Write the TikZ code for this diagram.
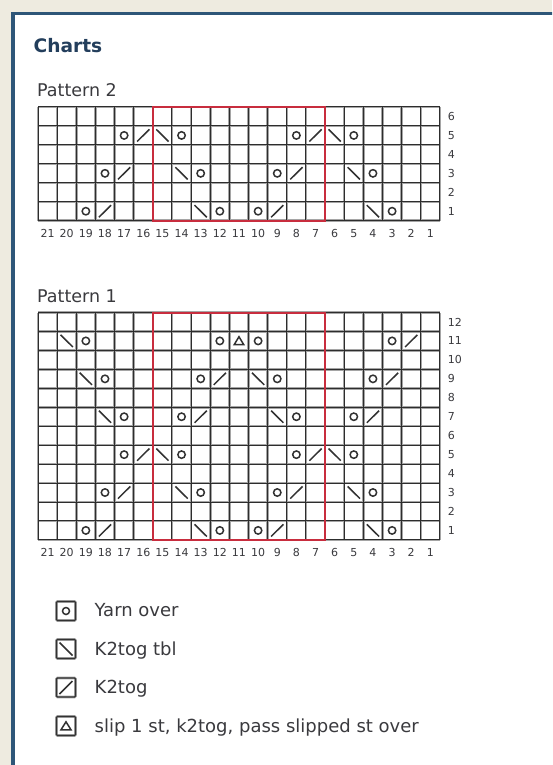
\documentclass[tikz,border=0pt]{standalone}
\usepackage{fontspec}
\setmainfont{DejaVu Sans}
\definecolor{beige}{RGB}{238,235,224}
\definecolor{frameblue}{RGB}{46,86,120}
\definecolor{titleblue}{RGB}{35,62,92}
\definecolor{txt}{RGB}{58,58,62}
\definecolor{chartred}{RGB}{200,45,62}
\definecolor{gridd}{RGB}{45,45,45}
\definecolor{gridl}{RGB}{165,165,165}
\definecolor{symc}{RGB}{50,50,50}
\begin{document}
\begin{tikzpicture}[x=1pt,y=-1pt,
  glback/.style={draw=gridl,line width=2.5pt},
  glfront/.style={draw=gridd,line width=1pt},
  redbox/.style={draw=chartred,line width=2pt},
  sym/.style={draw=symc,line width=1.5pt},
  num/.style={inner sep=0pt,text=txt,font=\fontsize{11}{12}\selectfont},
  label/.style={inner sep=0pt,anchor=base west,text=txt,font=\fontsize{17.5}{20}\selectfont},
  legtext/.style={inner sep=0pt,anchor=base west,text=txt,font=\fontsize{18}{21}\selectfont},
  legbox/.style={draw=symc,line width=1.3pt,rounded corners=1pt,minimum size=19pt,inner sep=0pt},
  halo/.style={draw=gridl,line width=2.8pt,rounded corners=1pt,minimum size=19pt,inner sep=0pt}
]
\useasboundingbox (0,0) rectangle (552,765);
\clip (0,0) rectangle (552,765);
\fill[beige] (0,0) rectangle (552,765);
\draw[frameblue,line width=3.5pt,fill=white] (13,13.5) rectangle (600,800);

\node[inner sep=0pt,anchor=base west,text=titleblue,font=\bfseries\fontsize{18.6}{21}\selectfont] (title) at (33.5,53) {Charts};
\node[label] (lab2) at (37,97) {Pattern 2};
\node[label] (lab1) at (37,302.5) {Pattern 1};

% ---------- Pattern 2 ----------
\begin{scope}[shift={(38,220.7)},x=19.14pt,y=18.95pt]
  \foreach \i in {0,...,21} \draw[glback] (\i,0) -- (\i,6);
  \foreach \j in {0,...,6} \draw[glback] (0,\j) -- (21,\j);
  \foreach \i in {0,...,21} \draw[glfront] (\i,0) -- (\i,6);
  \foreach \j in {0,...,6} \draw[glfront] (0,\j) -- (21,\j);
  \draw[redbox] (6,0) rectangle (15,6);
  \foreach \c/\r in {17/5,14/5,8/5,5/5,18/3,13/3,9/3,4/3,19/1,12/1,10/1,3/1}
    \draw[sym] ({21-\c+0.5},{\r-0.5}) circle[radius=3.7pt];
  \foreach \c/\r in {16/5,7/5,17/3,8/3,18/1,9/1}
    \draw[sym] ({21-\c+0.18},{\r-0.82}) -- ({21-\c+0.82},{\r-0.18});
  \foreach \c/\r in {15/5,6/5,14/3,5/3,13/1,4/1}
    \draw[sym] ({21-\c+0.18},{\r-0.18}) -- ({21-\c+0.82},{\r-0.82});
  \foreach \c in {1,...,21} \node[num] (p2c\c) at ({21-\c+0.5},-0.66) {\c};
  \foreach \r in {1,...,6} \node[num,anchor=west] (p2r\r) at (21.4,{\r-0.5}) {\r};
\end{scope}

% ---------- Pattern 1 ----------
\begin{scope}[shift={(38,539.9)},x=19.14pt,y=18.95pt]
  \foreach \i in {0,...,21} \draw[glback] (\i,0) -- (\i,12);
  \foreach \j in {0,...,12} \draw[glback] (0,\j) -- (21,\j);
  \foreach \i in {0,...,21} \draw[glfront] (\i,0) -- (\i,12);
  \foreach \j in {0,...,12} \draw[glfront] (0,\j) -- (21,\j);
  \draw[redbox] (6,0) rectangle (15,12);
  \foreach \c/\r in {19/11,12/11,10/11,3/11,18/9,13/9,9/9,4/9,17/7,14/7,8/7,5/7,17/5,14/5,8/5,5/5,18/3,13/3,9/3,4/3,19/1,12/1,10/1,3/1}
    \draw[sym] ({21-\c+0.5},{\r-0.5}) circle[radius=3.7pt];
  \foreach \c/\r in {2/11,12/9,3/9,13/7,4/7,16/5,7/5,17/3,8/3,18/1,9/1}
    \draw[sym] ({21-\c+0.18},{\r-0.82}) -- ({21-\c+0.82},{\r-0.18});
  \foreach \c/\r in {20/11,19/9,10/9,18/7,9/7,15/5,6/5,14/3,5/3,13/1,4/1}
    \draw[sym] ({21-\c+0.18},{\r-0.18}) -- ({21-\c+0.82},{\r-0.82});
  \draw[sym,line join=miter] ({21-11+0.5},{11-0.5}) ++(0,4.2pt) -- ++(-4.8pt,-8pt) -- ++(9.6pt,0) -- cycle;
  \foreach \c in {1,...,21} \node[num] (p1c\c) at ({21-\c+0.5},-0.66) {\c};
  \foreach \r in {1,...,12} \node[num,anchor=west] (p1r\r) at (21.4,{\r-0.5}) {\r};
\end{scope}

% ---------- Legend ----------
\foreach \k/\y in {1/611,2/649,3/687.5,4/726}{
  \node[halo] at (66,\y) {};
  \node[legbox] (lb\k) at (66,\y) {};
}
\draw[sym] (lb1.center) circle[radius=3.5pt];
\draw[sym] ([shift={(-6.5,-6.5)}]lb2.center) -- ([shift={(6.5,6.5)}]lb2.center);
\draw[sym] ([shift={(-6.5,6.5)}]lb3.center) -- ([shift={(6.5,-6.5)}]lb3.center);
\draw[sym,line join=miter] ([shift={(0,-4.2)}]lb4.center) -- ([shift={(-5,3.8)}]lb4.center) -- ([shift={(5,3.8)}]lb4.center) -- cycle;

\node[legtext] (lt1) at (94.5,616.5) {Yarn over};
\node[legtext] (lt2) at (94.5,655) {K2tog tbl};
\node[legtext] (lt3) at (94.5,693.5) {K2tog};
\node[legtext] (lt4) at (94.5,732) {slip 1 st, k2tog, pass slipped st over};
\end{tikzpicture}
\end{document}
